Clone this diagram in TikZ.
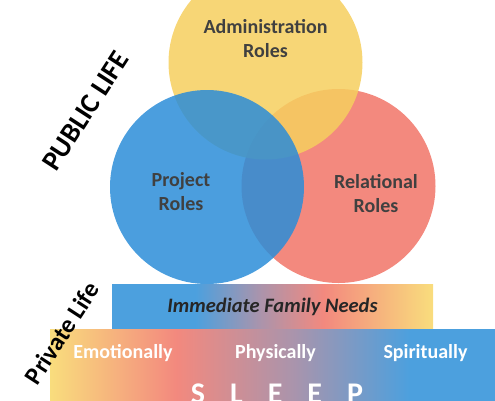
\documentclass[tikz,border=0pt]{standalone}
\usepackage{fontspec}
\setmainfont{Carlito}
\usepackage{tikz}
\usetikzlibrary{shapes}
\definecolor{rolesyellow}{RGB}{246,207,94}
\definecolor{rolesblue}{RGB}{43,141,216}
\definecolor{rolesred}{RGB}{241,116,103}
\definecolor{labelgray}{RGB}{64,64,64}
\definecolor{needsdark}{RGB}{38,38,38}
\definecolor{baryellow}{RGB}{249,221,125}
\definecolor{barred}{RGB}{243,137,126}
\definecolor{barmauve}{RGB}{170,148,172}
\definecolor{barblue}{RGB}{76,160,222}
\pgfdeclarehorizontalshading{familyshade}{100bp}{color(0bp)=(barblue); color(25bp)=(barblue);
color(38bp)=(barblue); color(48bp)=(barmauve); color(58bp)=(barred); color(75bp)=(baryellow);
color(100bp)=(baryellow)}
\pgfdeclarehorizontalshading{sleepshade}{100bp}{color(0bp)=(baryellow); color(25bp)=(baryellow);
color(39bp)=(barred); color(52bp)=(barmauve); color(65bp)=(barblue); color(75bp)=(barblue);
color(100bp)=(barblue)}
\tikzstyle{role} = [circle, fill opacity=0.85, minimum size=194pt, inner sep=0pt]
\tikzstyle{rolelabel} = [text=labelgray, align=center, font=\bfseries\fontsize{20}{24}\selectfont]
\tikzstyle{bar} = [rectangle, shade, inner sep=0pt]
\tikzstyle{barlabel} = [text=white, font=\bfseries\fontsize{20}{24}\selectfont]
\tikzstyle{lifelabel} = [rotate=57, text=black]

\begin{document}
\begin{tikzpicture}[x=1pt, y=-1pt]
			\useasboundingbox (0,0) rectangle (495,400);
			\clip (0,0) rectangle (495,400);
			% the three role circles
			\node [role, fill=rolesred] (relational) at (338.5,186) {};
			\node [role, fill=rolesyellow] (admin) at (265.5,62.5) {};
			\node [role, fill=rolesblue] (project) at (207,187) {};
			\node [rolelabel, above of=admin, node distance=24pt] (adminlbl) {Administration\\Roles};
			\node [rolelabel] (projectlbl) at ([xshift=-26pt, yshift=-5pt]project) {Project\\Roles};
			\node [rolelabel] (relationallbl) at ([xshift=37.5pt, yshift=-8pt]relational) {Relational\\Roles};
			% private life bars
			\node [bar, shading=familyshade, minimum width=321pt, minimum height=45pt, text=needsdark,
			font=\bfseries\itshape\fontsize{20.5}{24}\selectfont] (family) at (272.5,306.5) {Immediate Family Needs};
			\node [bar, shading=sleepshade, minimum width=450pt, minimum height=80pt, anchor=north west]
			(sleepbar) at (50,329) {};
			\node [barlabel] (emotional) at (123,353) {Emotionally};
			\node [barlabel] (physical) at (275.5,353) {Physically};
			\node [barlabel] (spiritual) at (425.5,353) {Spiritually};
			\node [barlabel, anchor=base, font=\bfseries\fontsize{30}{30}\selectfont] (sleep) at (277,403)
			{\spaceskip=25pt S L E E P};
			\node [lifelabel, font=\bfseries\fontsize{28}{30}\selectfont] (public) at (86,111) {PUBLIC LIFE};
			\node [lifelabel, font=\bfseries\fontsize{25}{30}\selectfont] (private) at (62,333) {Private Life};
		\end{tikzpicture}
\end{document}
